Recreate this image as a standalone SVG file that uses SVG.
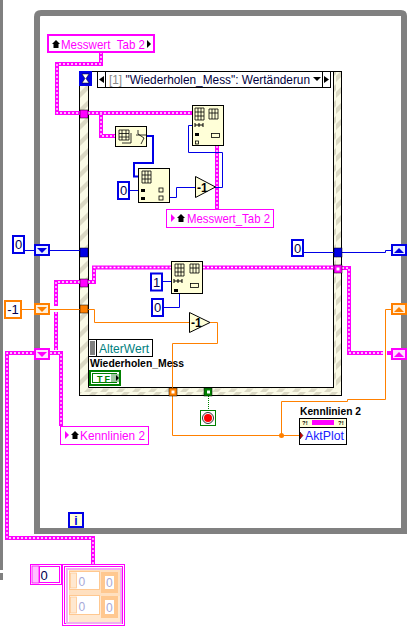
<svg xmlns="http://www.w3.org/2000/svg" width="415" height="637" viewBox="0 0 415 637">
<defs>
<pattern id="hatch" width="8" height="16" patternUnits="userSpaceOnUse"><rect width="8" height="16" fill="#fafae6"/><path d="M0 12 L8 4 V10 L0 18Z M0 -4 L8 -12 V-6 L0 2Z" fill="#dbd9c4"/></pattern>
<pattern id="hatchH" width="16" height="8" patternUnits="userSpaceOnUse"><rect width="16" height="8" fill="#fafae6"/><path d="M4 8 L12 0 H18 L10 8Z M-12 8 L-4 0 H2 L-6 8Z" fill="#dbd9c4"/></pattern>
</defs>
<style>
.t{font-family:"Liberation Sans",Arial,sans-serif}
.n{font-family:"Liberation Sans",Arial,sans-serif;font-size:13px;fill:#000050;text-anchor:middle}
.wp{fill:none;stroke:#ff00ff;stroke-width:4}
.wd{fill:none;stroke:#fff;stroke-width:1.3;stroke-dasharray:2 2}
.bl{fill:none;stroke:#0000e6;stroke-width:1}
.bt{fill:none;stroke:#0000e6;stroke-width:2}
.or{fill:none;stroke:#ff8000;stroke-width:1}
.fn{fill:#ffffd8;stroke:#000;stroke-width:1}
.const{fill:#fff;stroke:#0000e6;stroke-width:2}
.ic{fill:none;stroke:#000;stroke-width:.8}
</style>
<rect width="415" height="637" fill="#fff"/>
<g id="frame">
<rect x="0" y="0" width="3" height="570" fill="#808080"/>
<rect x="0" y="573" width="3" height="7" fill="#808080"/>
<path d="M37 531 V17 Q37 13 41 13 H401 Q404 13 404 16 V531 Z" fill="none" stroke="#808080" stroke-width="6"/>
</g>
<g id="case-structure">
<rect x="79.500" y="71.500" width="262" height="324" fill="url(#hatch)" stroke="#000"/>
<rect x="88" y="72" width="246" height="316" fill="#fff"/>
<path d="M88.500 86 V387.500 H334" fill="none" stroke="#000"/>
<path d="M333.500 72 V388" fill="none" stroke="#000"/>
<rect x="80" y="388.500" width="261" height="6.500" fill="url(#hatchH)"/>
<rect x="97.500" y="71.500" width="233" height="16" fill="#fff" stroke="#000"/>
<rect x="97.500" y="71.500" width="8" height="16" fill="#fff" stroke="#000"/>
<path d="M104 76 L99 79.500 L104 83Z" fill="#000"/>
<rect x="322.500" y="71.500" width="8" height="16" fill="#fff" stroke="#000"/>
<path d="M324 76 L329 79.500 L324 83Z" fill="#000"/>
<text class="t" x="109" y="84" font-size="13" textLength="201" lengthAdjust="spacingAndGlyphs"><tspan fill="#888">[1]</tspan><tspan fill="#000040"> "Wiederholen_Mess": Wertänderun</tspan></text>
<path d="M313 77 H321 L317 81Z" fill="#000"/>
</g>
<g id="connectors">
<path class="wp" d="M101 52 V64 H57 V113 H193"/>
<path class="wd" d="M101 52 V64 H57 V113 H193"/>
<path class="wp" d="M101 113 V136 H115"/>
<path class="wd" d="M101 113 V136 H115"/>
<path class="wp" d="M217 146 V210"/>
<path class="wd" d="M217 146 V210"/>
<path class="bt" d="M147 136 H153 V163 H134 V176.500 H139"/>
<path class="bl" d="M129 190.500 H139"/>
<path class="bl" d="M170 197.500 H176.500 V187.500 H195"/>
<path class="bl" d="M193 125.500 H188.500 V152.500 H222.500 V187.500 H215"/>
<path class="bl" d="M25 250.500 H35"/>
<path class="bl" d="M50 250.500 H80"/>
<path class="bl" d="M304 252.500 H334"/>
<path class="bl" d="M342 252.500 H385.500 V250.500 H391"/>
<path class="bl" d="M163 281.500 H172"/>
<path class="bl" d="M164 307.500 H179.500 V294"/>
<path class="wp" d="M84 282 H94 V267.500 H172"/>
<path class="wd" d="M84 282 H94 V267.500 H172"/>
<path class="wp" d="M203 267.500 H340"/>
<path class="wd" d="M203 267.500 H340"/>
<path class="wp" d="M80 282 H56 V306 M56 312 V350"/>
<path class="wd" d="M80 282 H56 V306 M56 312 V350"/>
<path class="wp" d="M342 268 H349 V353 H383 M387 353 H392"/>
<path class="wd" d="M342 268 H349 V353 H383"/>
<path class="wp" d="M36 353 H7 V538 H93 V564"/>
<path class="wd" d="M36 353 H7 V538 H93 V564"/>
<path class="wp" d="M50 353 H61 V426"/>
<path class="wd" d="M50 353 H61 V426"/>
<path class="or" d="M22 309.500 H35"/>
<path class="or" d="M50 309.500 H80 M88 309.500 H94.500 V322.500 H190"/>
<path class="or" d="M210 322.500 H217.500 V343.500 H172.500 V435.500 H299"/>
<path class="or" d="M281.500 435 V401.500 H347.500 V399.500 H385.500 V309.500 H391"/>
<path d="M208.500 396 V410" fill="none" stroke="#008000" stroke-dasharray="1 1"/>
<circle cx="281.500" cy="435.500" r="2.500" fill="#ff8000"/>
</g>
<g id="tunnels">
<rect x="80" y="110" width="8" height="8" fill="#ff00ff" stroke="#000" stroke-width=".5"/>
<rect x="80" y="248" width="8" height="9" fill="#0000e6" stroke="#000" stroke-width=".5"/>
<rect x="80" y="279" width="8" height="8" fill="#ff00ff" stroke="#000" stroke-width=".5"/>
<rect x="80" y="305" width="8" height="8" fill="#ff8000" stroke="#000" stroke-width=".5"/>
<rect x="334" y="248" width="8" height="9" fill="#0000e6" stroke="#000" stroke-width=".5"/>
<rect x="334" y="265" width="8" height="8" fill="#ff00ff" stroke="#000" stroke-width=".5"/>
<rect x="336.500" y="267.500" width="3" height="3" fill="#fff"/>
<rect x="169" y="388" width="8" height="8" fill="#ff8000" stroke="#000" stroke-width=".5"/>
<rect x="171.500" y="390.500" width="3" height="3" fill="#fff"/>
<rect x="204" y="388" width="8" height="8" fill="#008000" stroke="#000" stroke-width=".5"/>
<rect x="207" y="390.500" width="3" height="3" fill="#fff"/>
<rect x="79" y="71" width="13" height="15" fill="#0000e6"/>
<path d="M82 74 H89 L86 78.500 L89 83 H82 L85 78.500Z" fill="#fff" stroke="#000" stroke-width=".5"/>
</g>
<g id="shift-registers">
<rect x="35" y="245" width="14" height="10" fill="#e8f0ff" stroke="#0000e6" stroke-width="2"/><path d="M37 248 H47 L42 253Z" fill="#0000e6"/>
<rect x="35" y="304" width="14" height="10" fill="#fff0dc" stroke="#ff8000" stroke-width="2"/><path d="M37 307 H47 L42 312Z" fill="#ff8000"/>
<rect x="35" y="349" width="14" height="10" fill="#ffe0ff" stroke="#ff00ff" stroke-width="2"/><path d="M37 352 H47 L42 357Z" fill="#ff00ff"/>
<rect x="392" y="245" width="14" height="10" fill="#e8f0ff" stroke="#0000e6" stroke-width="2"/><path d="M394 253 H404 L399 248Z" fill="#0000e6"/>
<rect x="392" y="304" width="14" height="10" fill="#fff0dc" stroke="#ff8000" stroke-width="2"/><path d="M394 312 H404 L399 307Z" fill="#ff8000"/>
<rect x="392" y="349" width="14" height="10" fill="#ffe0ff" stroke="#ff00ff" stroke-width="2"/><path d="M394 357 H404 L399 352Z" fill="#ff00ff"/>
</g>
<g id="messwert-local-top">
<rect x="48" y="35" width="106" height="17" fill="#fff" stroke="#ff00ff" stroke-width="2"/>
<path d="M52 44 L56 40 L60 44 H58.500 V48 H53.500 V44Z" fill="#000"/>
<text class="t" x="61" y="49" font-size="13" fill="#ff00ff" textLength="84" lengthAdjust="spacingAndGlyphs">Messwert_Tab 2</text>
<path d="M147 40 L151 44 L147 48Z" fill="#000"/>
</g>
<g id="messwert-local-bottom">
<rect x="166.500" y="209.500" width="107" height="18" fill="#fff" stroke="#ff00ff" stroke-width="1"/>
<path d="M171 214 L175 218 L171 222Z" fill="#ff00ff"/>
<path d="M177 218 L181 214 L185 218 H183.500 V222 H178.500 V218Z" fill="#000"/>
<text class="t" x="187" y="223" font-size="13" fill="#ff00ff" textLength="83" lengthAdjust="spacingAndGlyphs">Messwert_Tab 2</text>
</g>
<g id="kennlinien-local">
<rect x="60.500" y="426.500" width="88" height="18" fill="#fff" stroke="#ff00ff" stroke-width="1"/>
<path d="M65 431 L69 435 L65 439Z" fill="#ff00ff"/>
<path d="M71 435 L75 431 L79 435 H77.500 V439 H72.500 V435Z" fill="#000"/>
<text class="t" x="80" y="440" font-size="13" fill="#ff00ff" textLength="65" lengthAdjust="spacingAndGlyphs">Kennlinien 2</text>
</g>
<g id="array-size">
<rect class="fn" x="115.500" y="126.500" width="31" height="20"/>
<path class="ic" d="M119 130 H129 V140 H119Z M122 130 V140 M126 130 V140 M119 133.500 H129 M119 137 H129 M131 133 V143 H122 M138 130 V134 L144 138 L141 144 M136 135 H146"/>
</g>
<g id="array-subset-1">
<rect class="fn" x="138.500" y="168.500" width="31" height="34"/>
<path class="ic" d="M142 171 H151 V183 H142Z M145 171 V183 M148 171 V183 M142 175 H151 M142 179 H151"/>
<rect x="141" y="189" width="4" height="3" fill="#000"/><rect x="141" y="197" width="4" height="3" fill="#000"/>
<rect class="ic" x="159" y="188" width="4" height="4"/><rect class="ic" x="159" y="196" width="4" height="4"/>
</g>
<g id="const-0-a"><rect class="const" x="118" y="182" width="11" height="17"/><text class="n" x="123.500" y="195">0</text></g>
<g id="minus1-a">
<path class="fn" d="M195.500 176.500 L215.500 187 L195.500 197.500Z"/>
<text class="t" x="197" y="191.500" font-size="12" font-weight="bold" fill="#000">-1</text>
</g>
<g id="replace-array-1">
<rect class="fn" x="192.500" y="105.500" width="31" height="40"/>
<path class="ic" d="M195 108 H204 V120 H195Z M198 108 V120 M201 108 V120 M195 112 H204 M195 116 H204 M209 109 H218 V119 H209Z M212 109 V119 M215 109 V119 M209 113 H218"/>
<path d="M195 125 H203 M195 123 V127 M199 123 V127 M203 123 V127" stroke="#000" fill="none"/>
<rect x="195" y="133" width="4" height="3" fill="#000"/><rect class="ic" x="195.500" y="141" width="3" height="3"/><rect class="ic" x="211.500" y="133.500" width="8" height="4"/>
</g>
<g id="replace-array-2">
<rect class="fn" x="171.500" y="261.500" width="31" height="32"/>
<path class="ic" d="M175 264 H184 V276 H175Z M178 264 V276 M181 264 V276 M175 268 H184 M175 272 H184 M190 264 H199 V273 H190Z M193 264 V273 M196 264 V273 M190 268 H199"/>
<path d="M174 281 H182 M174 279 V283 M178 279 V283 M182 279 V283" stroke="#000" fill="none"/>
<rect x="174" y="289" width="4" height="3" fill="#000"/><rect class="ic" x="190.500" y="283.500" width="8" height="4"/>
</g>
<g id="const-1"><rect class="const" x="151" y="273.500" width="11" height="17"/><text class="n" x="156.500" y="286.500">1</text></g>
<g id="const-0-b"><rect class="const" x="152" y="299" width="11" height="17"/><text class="n" x="157.500" y="312">0</text></g>
<g id="minus1-b">
<path class="fn" d="M189.500 312.500 L210 322.500 L189.500 332.500Z"/>
<text class="t" x="191" y="327" font-size="12" font-weight="bold" fill="#000">-1</text>
</g>
<g id="const-0-left"><rect class="const" x="13" y="236" width="11" height="17"/><text class="n" x="18.500" y="249">0</text></g>
<g id="const-m1"><rect x="5" y="301" width="16" height="17" fill="#fff" stroke="#ff8000" stroke-width="2"/><text class="n" x="13" y="314">-1</text></g>
<g id="const-0-right"><rect class="const" x="292" y="240" width="11" height="16"/><text class="n" x="297.500" y="253">0</text></g>
<g id="alterwert">
<rect x="88.500" y="339.500" width="64" height="17" fill="#fff" stroke="#000"/>
<rect x="90" y="341" width="5" height="14" fill="#808080"/>
<path d="M96.500 340 V356" stroke="#000"/>
<text class="t" x="99" y="353" font-size="13" fill="#008080" textLength="50" lengthAdjust="spacingAndGlyphs">AlterWert</text>
</g>
<g id="wiederholen-terminal">
<text class="t" x="90" y="367" font-size="11" font-weight="bold" fill="#000" textLength="94" lengthAdjust="spacingAndGlyphs">Wiederholen_Mess</text>
<rect x="90" y="371" width="30" height="14" fill="#fff" stroke="#008000" stroke-width="2"/>
<rect x="92.500" y="373.500" width="24" height="9" fill="#fff" stroke="#008000"/>
<rect x="111" y="374" width="8" height="8" fill="#9fc9a0"/>
<text class="t" x="97" y="382" font-size="9" font-weight="bold" fill="#008000" letter-spacing="2">TF</text>
<path d="M116 375 L119 378 L116 381Z" fill="#000"/>
</g>
<g id="stop">
<rect x="200.500" y="410.500" width="15" height="15" fill="#fff" stroke="#008000" stroke-width="1"/>
<circle cx="208" cy="418" r="5.500" fill="#fff" stroke="#000" stroke-width=".8"/>
<circle cx="208" cy="418" r="4" fill="#ff0000"/>
</g>
<g id="aktplot">
<text class="t" x="300" y="415" font-size="11" font-weight="bold" fill="#000" textLength="61" lengthAdjust="spacingAndGlyphs">Kennlinien 2</text>
<rect x="299.500" y="418.500" width="47" height="26" fill="#fff" stroke="#000"/>
<rect x="300" y="419" width="46" height="8" fill="#ffffd8"/>
<path d="M300 427.500 H346" stroke="#000"/>
<rect x="312" y="420" width="22" height="5" fill="#ff00ff"/>
<text class="t" x="302" y="425" font-size="6" font-weight="bold" fill="#000">?!</text>
<text class="t" x="338" y="425" font-size="6" font-weight="bold" fill="#000">?!</text>
<path d="M300 432 L303 435.500 L300 439Z" fill="#e00000" stroke="#000" stroke-width=".5"/>
<text class="t" x="305" y="440" font-size="13" fill="#2020ff" textLength="39" lengthAdjust="spacingAndGlyphs">AktPlot</text>
</g>
<g id="iteration">
<rect x="69" y="513" width="14" height="14" fill="#ffffd8" stroke="#0000e6" stroke-width="2"/>
<text class="t" x="76" y="525" font-size="12" font-weight="bold" fill="#0000e6" text-anchor="middle">i</text>
</g>
<g id="index-control">
<rect x="30.500" y="564.500" width="31" height="20" fill="#fff" stroke="#ff00ff" stroke-width="1"/>
<rect x="32" y="566" width="7" height="17" fill="#ffc0ff" stroke="#ff00ff" stroke-width=".8"/>
<rect x="39.500" y="566.500" width="20" height="16" fill="#fff" stroke="#ff00ff" stroke-width="1"/>
<text class="n" x="44" y="579.500">0</text>
</g>
<g id="cluster-array">
<rect x="62.500" y="564.500" width="62" height="61" fill="#fff" stroke="#ff00ff" stroke-width="1"/>
<rect x="64.500" y="566.500" width="58" height="57" fill="#fff" stroke="#ff00ff" stroke-width="1"/>
<rect x="67" y="569" width="54" height="54" fill="#fff" stroke="#f0b0f0" stroke-width="2"/>
<rect x="69" y="570" width="51" height="26" fill="#ffe0c0"/>
<rect x="69.500" y="571.500" width="30" height="18" fill="#fff" stroke="#ffc890"/>
<rect x="70.500" y="573" width="6" height="15" fill="#ffe8d0" stroke="#ffc890" stroke-width=".8"/>
<text class="t" x="78.500" y="586" font-size="12" fill="#a8a8d8">0</text>
<rect x="101" y="572" width="17" height="21" fill="#ffc890"/><rect x="105" y="576" width="9" height="13" fill="#fff"/>
<text class="t" x="106" y="587" font-size="12" fill="#a8a8d8">0</text>
<rect x="69" y="596" width="51" height="26" fill="#ffe8d0"/>
<rect x="69.500" y="595.500" width="30" height="19" fill="#fff" stroke="#ffc890"/>
<rect x="70.500" y="597" width="6" height="16" fill="#ffe8d0" stroke="#ffc890" stroke-width=".8"/>
<text class="t" x="78.500" y="611" font-size="12" fill="#a8a8d8">0</text>
<rect x="101" y="596" width="17" height="22" fill="#ffc890"/><rect x="105" y="600" width="9" height="14" fill="#fff"/>
<text class="t" x="106" y="612" font-size="12" fill="#a8a8d8">0</text>
</g>
</svg>
